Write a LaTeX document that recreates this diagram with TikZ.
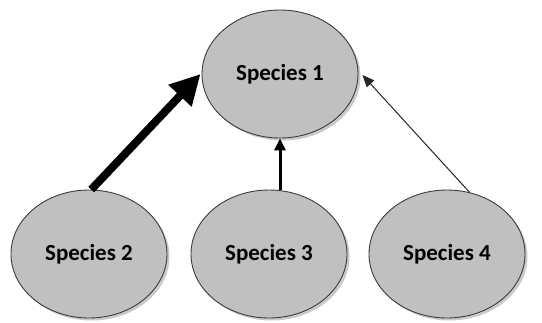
\documentclass[tikz,border=0pt]{standalone}
\usepackage{fontspec}
\setmainfont{Carlito}
\usetikzlibrary{shapes.geometric,arrows.meta,shadows}
\definecolor{nodefill}{RGB}{192,192,192}
\definecolor{nodeline}{RGB}{60,60,60}
\tikzset{
  species/.style={ellipse, draw=nodeline, line width=0.9pt, fill=nodefill,
    minimum width=156pt, minimum height=128pt, inner sep=0pt,
    font=\fontsize{23}{27}\selectfont\bfseries,
    drop shadow={shadow xshift=2.5pt, shadow yshift=-2.5pt, opacity=0.35, fill=black!60}},
  strong/.style={line width=8pt, -{Triangle[length=30pt,width=30pt]}},
  medium/.style={line width=3pt, -{Triangle[length=12pt,width=11pt]}},
  weak/.style={line width=1pt, draw=black!85, -{Triangle[length=12pt,width=10pt]}}
}
\begin{document}
\begin{tikzpicture}[x=1pt,y=-1pt]
  \useasboundingbox (0,0) rectangle (542,322);
  \node[species] (s1) at (280,74) {Species 1};
  \node[species] (s2) at (89,254) {Species 2};
  \node[species] (s3) at (269,254) {Species 3};
  \node[species] (s4) at (447,254) {Species 4};
  \draw[strong] (s2.88) -- ([xshift=-1pt]s1.west);
  \draw[medium] (s1.south |- s3.north) -- (s1.south);
  \draw[weak] (s4.70) -- ([xshift=4pt,yshift=-1pt]s1.east);
\end{tikzpicture}
\end{document}
